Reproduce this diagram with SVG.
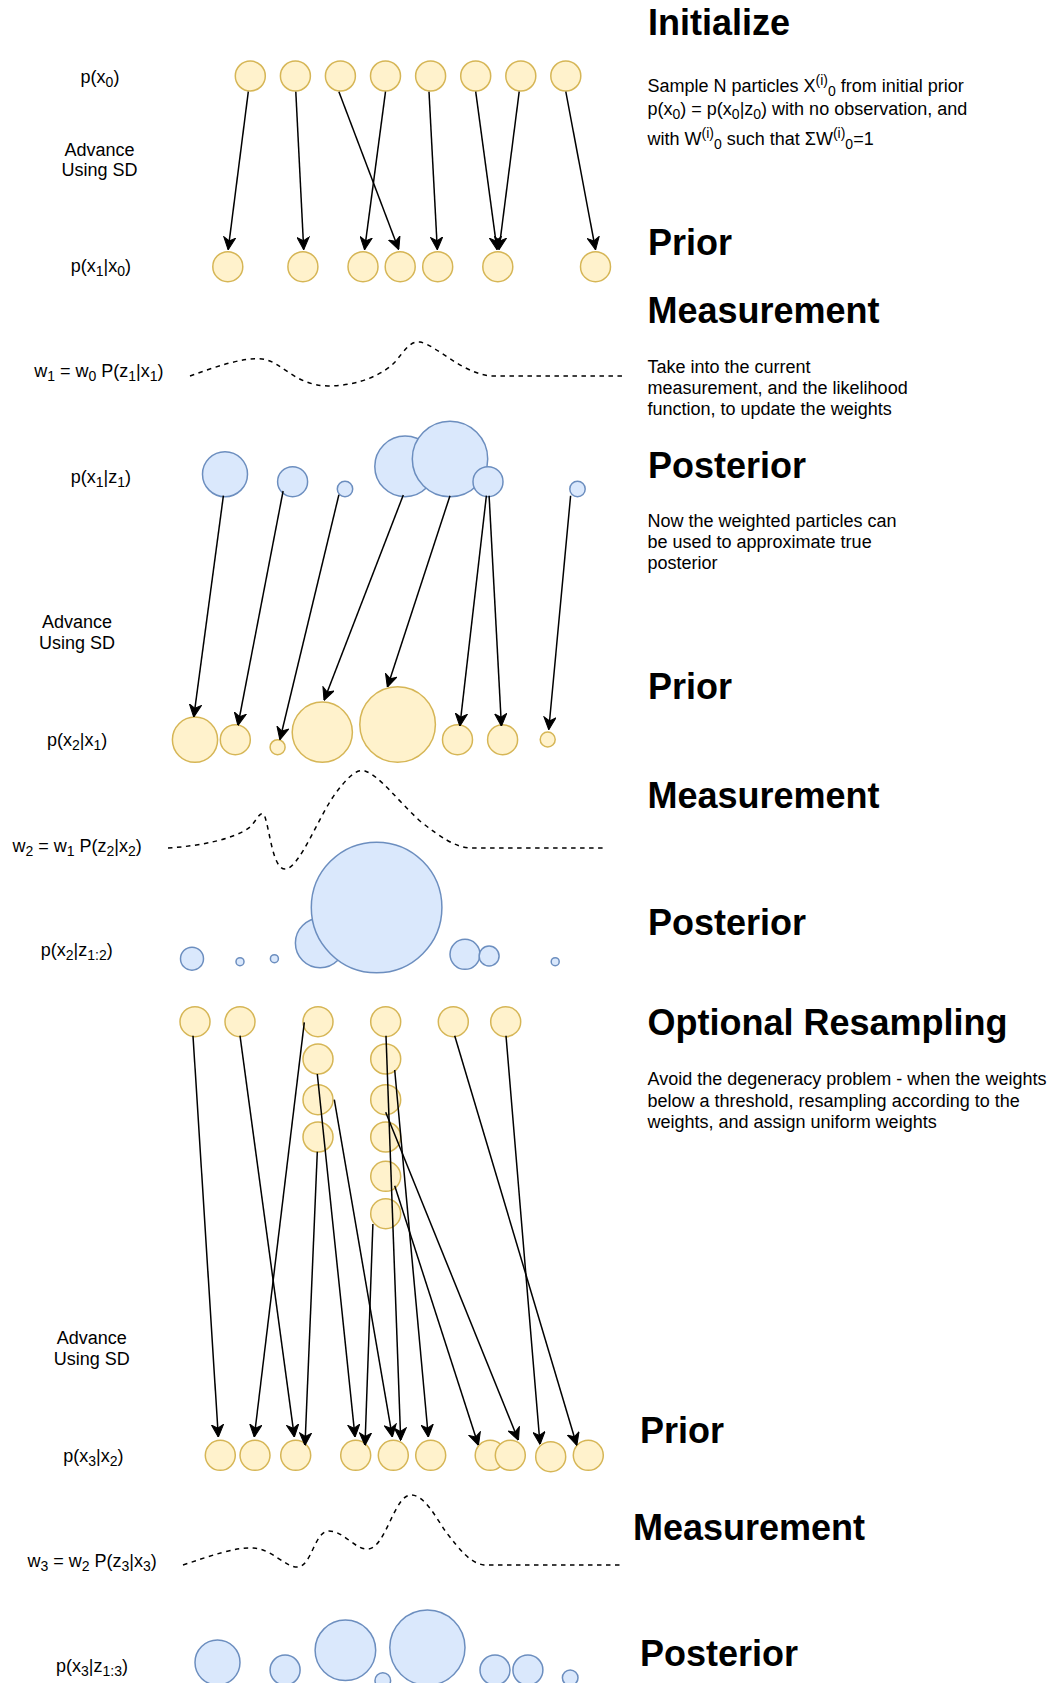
<svg xmlns="http://www.w3.org/2000/svg" width="1054" height="1683" viewBox="0 0 1054 1683">
<defs>
<style>
.y{fill:#fff2cc;stroke:#d6b656;stroke-width:1.5}
.b{fill:#dae8fc;stroke:#6c8ebf;stroke-width:1.5}
.e{fill:none;stroke:#000;stroke-width:1.5;marker-end:url(#arr)}
.d{fill:none;stroke:#000;stroke-width:1.5;stroke-dasharray:4.5 4.5}
text{font-family:"Liberation Sans",Arial,Helvetica,sans-serif;fill:#000}
.lbl{font-size:18px;text-anchor:middle}
.h{font-size:36px;font-weight:bold}
.t{font-size:18px}
.s{font-size:14px}
</style>
<marker id="arr" viewBox="0 0 13 13" refX="12.5" refY="6.5" markerWidth="13" markerHeight="13" markerUnits="userSpaceOnUse" orient="auto">
<path d="M0.5,0.5 L13,6.5 L0.5,12.5 L4,6.5 Z" fill="#000" stroke="#000" stroke-width="1"/>
</marker>
</defs>
<rect width="1054" height="1683" fill="#fff"/>

<!-- Left labels -->
<g id="lbl-px0"><text class="lbl" x="100" y="82.5">p(x<tspan class="s" dy="4">0</tspan><tspan dy="-4">)</tspan></text></g>
<g id="lbl-adv1"><text class="lbl" x="99.6" y="155.5">Advance</text><text class="lbl" x="99.6" y="176">Using SD</text></g>
<g id="lbl-px1x0"><text class="lbl" x="100.8" y="272">p(x<tspan class="s" dy="4">1</tspan><tspan dy="-4">|x</tspan><tspan class="s" dy="4">0</tspan><tspan dy="-4">)</tspan></text></g>
<g id="lbl-w1"><text class="lbl" x="98.9" y="377">w<tspan class="s" dy="4">1</tspan><tspan dy="-4"> = w</tspan><tspan class="s" dy="4">0</tspan><tspan dy="-4"> P(z</tspan><tspan class="s" dy="4">1</tspan><tspan dy="-4">|x</tspan><tspan class="s" dy="4">1</tspan><tspan dy="-4">)</tspan></text></g>
<g id="lbl-px1z1"><text class="lbl" x="100.8" y="483">p(x<tspan class="s" dy="4">1</tspan><tspan dy="-4">|z</tspan><tspan class="s" dy="4">1</tspan><tspan dy="-4">)</tspan></text></g>
<g id="lbl-adv2"><text class="lbl" x="77.1" y="628.3">Advance</text><text class="lbl" x="77.1" y="649">Using SD</text></g>
<g id="lbl-px2x1"><text class="lbl" x="77.1" y="746">p(x<tspan class="s" dy="4">2</tspan><tspan dy="-4">|x</tspan><tspan class="s" dy="4">1</tspan><tspan dy="-4">)</tspan></text></g>
<g id="lbl-w2"><text class="lbl" x="77.1" y="851.5">w<tspan class="s" dy="4">2</tspan><tspan dy="-4"> = w</tspan><tspan class="s" dy="4">1</tspan><tspan dy="-4"> P(z</tspan><tspan class="s" dy="4">2</tspan><tspan dy="-4">|x</tspan><tspan class="s" dy="4">2</tspan><tspan dy="-4">)</tspan></text></g>
<g id="lbl-px2z12"><text class="lbl" x="76.7" y="956">p(x<tspan class="s" dy="4">2</tspan><tspan dy="-4">|z</tspan><tspan class="s" dy="4">1:2</tspan><tspan dy="-4">)</tspan></text></g>
<g id="lbl-adv3"><text class="lbl" x="91.7" y="1344.3">Advance</text><text class="lbl" x="91.7" y="1365">Using SD</text></g>
<g id="lbl-px3x2"><text class="lbl" x="93.3" y="1461.5">p(x<tspan class="s" dy="4">3</tspan><tspan dy="-4">|x</tspan><tspan class="s" dy="4">2</tspan><tspan dy="-4">)</tspan></text></g>
<g id="lbl-w3"><text class="lbl" x="92.1" y="1567">w<tspan class="s" dy="4">3</tspan><tspan dy="-4"> = w</tspan><tspan class="s" dy="4">2</tspan><tspan dy="-4"> P(z</tspan><tspan class="s" dy="4">3</tspan><tspan dy="-4">|x</tspan><tspan class="s" dy="4">3</tspan><tspan dy="-4">)</tspan></text></g>
<g id="lbl-px3z13"><text class="lbl" x="92" y="1672">p(x<tspan class="s" dy="4">3</tspan><tspan dy="-4">|z</tspan><tspan class="s" dy="4">1:3</tspan><tspan dy="-4">)</tspan></text></g>

<!-- Right headings & descriptions -->
<g id="h-initialize"><text class="h" x="648" y="35">Initialize</text>
<text class="t" x="647.5" y="91.5">Sample N particles X<tspan class="s" dy="-7">(i)</tspan><tspan class="s" dy="11">0</tspan><tspan dy="-4"> from initial prior</tspan></text>
<text class="t" x="647.5" y="114.5">p(x<tspan class="s" dy="4">0</tspan><tspan dy="-4">) = p(x</tspan><tspan class="s" dy="4">0</tspan><tspan dy="-4">|z</tspan><tspan class="s" dy="4">0</tspan><tspan dy="-4">) with no observation, and</tspan></text>
<text class="t" x="647.5" y="145">with W<tspan class="s" dy="-7">(i)</tspan><tspan class="s" dy="11">0</tspan><tspan dy="-4"> such that ΣW</tspan><tspan class="s" dy="-7">(i)</tspan><tspan class="s" dy="11">0</tspan><tspan dy="-4">=1</tspan></text></g>
<g id="h-prior1"><text class="h" x="648" y="255">Prior</text></g>
<g id="h-meas1"><text class="h" x="647.5" y="323.3">Measurement</text>
<text class="t" x="647.5" y="373.3">Take into the current</text>
<text class="t" x="647.5" y="394.3">measurement, and the likelihood</text>
<text class="t" x="647.5" y="415">function, to update the weights</text></g>
<g id="h-post1"><text class="h" x="648" y="477.7">Posterior</text>
<text class="t" x="647.5" y="527.3">Now the weighted particles can</text>
<text class="t" x="647.5" y="548.3">be used to approximate true</text>
<text class="t" x="647.5" y="569.3">posterior</text></g>
<g id="h-prior2"><text class="h" x="648" y="698.5">Prior</text></g>
<g id="h-meas2"><text class="h" x="647.5" y="808.3">Measurement</text></g>
<g id="h-post2"><text class="h" x="648" y="935">Posterior</text></g>
<g id="h-resample"><text class="h" x="647.5" y="1035">Optional Resampling</text>
<text class="t" x="647.5" y="1085">Avoid the degeneracy problem - when the weights</text>
<text class="t" x="647.5" y="1106.5">below a threshold, resampling according to the</text>
<text class="t" x="647.5" y="1127.5">weights, and assign uniform weights</text></g>
<g id="h-prior3"><text class="h" x="640" y="1442.7">Prior</text></g>
<g id="h-meas3"><text class="h" x="633" y="1540">Measurement</text></g>
<g id="h-post3"><text class="h" x="640" y="1666">Posterior</text></g>

<!-- Row p(x0) -->
<g id="x0">
<circle class="y" cx="250.3" cy="76" r="15"/><circle class="y" cx="295.4" cy="76" r="15"/>
<circle class="y" cx="340.4" cy="76" r="15"/><circle class="y" cx="385.5" cy="76" r="15"/>
<circle class="y" cx="430.6" cy="76" r="15"/><circle class="y" cx="475.7" cy="76" r="15"/>
<circle class="y" cx="520.8" cy="76" r="15"/><circle class="y" cx="565.8" cy="76" r="15"/>
</g>
<!-- Row p(x1|x0) -->
<g id="x1prior">
<circle class="y" cx="227.8" cy="266.7" r="15"/><circle class="y" cx="302.9" cy="266.7" r="15"/>
<circle class="y" cx="363" cy="266.7" r="15"/><circle class="y" cx="400.2" cy="266.7" r="15"/>
<circle class="y" cx="437.7" cy="266.7" r="15"/><circle class="y" cx="497.8" cy="266.7" r="15"/>
<circle class="y" cx="595.5" cy="266.7" r="15"/>
</g>
<!-- Measurement 1 -->
<g id="meas1"><path class="d" d="M190,376 C215,367 243,357 262,359 C282,361 293,385 328,386 C360,386 385,373 395,362 C405,350 410,341 420,342 C436,345 460,372 490,376 L622,376"/></g>
<!-- Posterior 1 -->
<g id="x1post">
<circle class="b" cx="225" cy="474.2" r="22.5"/>
<circle class="b" cx="292.6" cy="481.7" r="15"/>
<circle class="b" cx="345" cy="489" r="7.7"/>
<circle class="b" cx="405.1" cy="466.4" r="30.3"/>
<circle class="b" cx="450" cy="459" r="37.7"/>
<circle class="b" cx="488" cy="481.7" r="15"/>
<circle class="b" cx="577.5" cy="489" r="7.7"/>
</g>
<!-- Prior 2 -->
<g id="x2prior">
<circle class="y" cx="195" cy="739.7" r="22.6"/>
<circle class="y" cx="235.3" cy="739.7" r="15"/>
<circle class="y" cx="277.6" cy="747.2" r="7.5"/>
<circle class="y" cx="322.3" cy="732.2" r="30.1"/>
<circle class="y" cx="397.6" cy="724.5" r="37.8"/>
<circle class="y" cx="457.5" cy="739.7" r="15"/>
<circle class="y" cx="502.6" cy="739.7" r="15"/>
<circle class="y" cx="547.7" cy="739.5" r="7.5"/>
</g>
<!-- Measurement 2 -->
<g id="meas2"><path class="d" d="M168,848 C200,846 235,839 250,827 C258,819 261,808 265,817 C270,832 273,869 285,869 C300,869 320,812 338,790 C350,775 357,769 365,771 C380,776 398,801 420,821 C440,837 455,847 470,848 L603,848"/></g>
<!-- Posterior 2 -->
<g id="x2post">
<circle class="b" cx="192" cy="958.7" r="11.5"/>
<circle class="b" cx="240" cy="961.7" r="4"/>
<circle class="b" cx="274.4" cy="958.7" r="4"/>
<circle class="b" cx="320.1" cy="943" r="24.7"/>
<circle class="b" cx="376.6" cy="907.5" r="65.3"/>
<circle class="b" cx="465" cy="954.3" r="15"/>
<circle class="b" cx="489.1" cy="956" r="10"/>
<circle class="b" cx="555.2" cy="961.7" r="4"/>
</g>
<!-- Resampled -->
<g id="resampled">
<circle class="y" cx="195" cy="1021.7" r="15"/>
<circle class="y" cx="240" cy="1021.7" r="15"/>
<circle class="y" cx="318" cy="1021.7" r="15"/>
<circle class="y" cx="318" cy="1059" r="15"/>
<circle class="y" cx="318" cy="1099.7" r="15"/>
<circle class="y" cx="318" cy="1137" r="15"/>
<circle class="y" cx="385.7" cy="1021.7" r="15"/>
<circle class="y" cx="385.7" cy="1059" r="15"/>
<circle class="y" cx="385.7" cy="1099.7" r="15"/>
<circle class="y" cx="385.7" cy="1137" r="15"/>
<circle class="y" cx="385.7" cy="1176.3" r="15"/>
<circle class="y" cx="385.7" cy="1213.7" r="15"/>
<circle class="y" cx="453.3" cy="1021.7" r="15"/>
<circle class="y" cx="505.7" cy="1021.7" r="15"/>
</g>
<!-- Prior 3 -->
<g id="x3prior">
<circle class="y" cx="220.3" cy="1455.3" r="15"/>
<circle class="y" cx="255" cy="1455.3" r="15"/>
<circle class="y" cx="295.7" cy="1455.3" r="15"/>
<circle class="y" cx="355.7" cy="1455.3" r="15"/>
<circle class="y" cx="393.3" cy="1455.3" r="15"/>
<circle class="y" cx="430.7" cy="1455.3" r="15"/>
<circle class="y" cx="490.2" cy="1455.3" r="15"/>
<circle class="y" cx="510.3" cy="1455.3" r="15"/>
<circle class="y" cx="550.7" cy="1456.7" r="15"/>
<circle class="y" cx="588.3" cy="1455.3" r="15"/>
</g>
<!-- Measurement 3 -->
<g id="meas3"><path class="d" d="M183,1565 C210,1556 235,1547 253,1548 C272,1549 285,1567 297,1567 C312,1567 314,1531 329,1531 C344,1531 355,1550 368,1549 C386,1548 394,1495 411,1495 C425,1495 436,1518 446,1532 C460,1550 470,1563 484,1565 L620,1565"/></g>
<!-- Posterior 3 -->
<g id="x3post">
<circle class="b" cx="217.5" cy="1662.5" r="22.5"/>
<circle class="b" cx="285.1" cy="1670" r="15"/>
<circle class="b" cx="345.4" cy="1650.3" r="30.3"/>
<circle class="b" cx="427.4" cy="1647.6" r="37.6"/>
<circle class="b" cx="382.8" cy="1680.5" r="7.8"/>
<circle class="b" cx="495" cy="1670" r="15"/>
<circle class="b" cx="527.9" cy="1670" r="15"/>
<circle class="b" cx="570.2" cy="1677.8" r="7.8"/>
</g>

<!-- Connectors -->
<g id="connectors">
<path class="e" d="M248.3,91.7 L228.2,249.3"/>
<path class="e" d="M295.8,91.7 L303.7,249.3"/>
<path class="e" d="M338.9,91.7 L398.6,249.3"/>
<path class="e" d="M385.5,91.7 L364.6,249.3"/>
<path class="e" d="M429,91.7 L437.3,249.3"/>
<path class="e" d="M475.7,91.7 L497,249.3"/>
<path class="e" d="M519.2,91.7 L499,249.3"/>
<path class="e" d="M565.8,91.7 L595.5,249.3"/>

<path class="e" d="M223.4,495.7 L193.8,716.7"/>
<path class="e" d="M283.1,491 L238,725"/>
<path class="e" d="M338.9,494.7 L280,739.3"/>
<path class="e" d="M403.3,495 L324.2,700"/>
<path class="e" d="M450,495.7 L387.5,686.7"/>
<path class="e" d="M486.4,495.7 L459.9,725.7"/>
<path class="e" d="M489.1,495.7 L501.4,725.7"/>
<path class="e" d="M570.6,495.7 L548.8,729.3"/>

<path class="e" d="M193,1035.7 L218.3,1436.7"/>
<path class="e" d="M240,1035.7 L294.3,1436.7"/>
<path class="e" d="M304.3,1022.3 L254.3,1436.7"/>
<path class="e" d="M317.3,1074 L355,1436.7"/>
<path class="e" d="M334.3,1099.7 L392.3,1436.7"/>
<path class="e" d="M317.3,1151.7 L305,1445"/>
<path class="e" d="M386,1035.7 L400.7,1440"/>
<path class="e" d="M394.7,1070 L428.3,1436.7"/>
<path class="e" d="M385.7,1112.3 L518.3,1440"/>
<path class="e" d="M394.7,1185.7 L478.3,1445"/>
<path class="e" d="M372.9,1224 L365,1445"/>
<path class="e" d="M454.7,1035.7 L576.7,1445"/>
<path class="e" d="M506,1035.7 L540,1444"/>
</g>
</svg>
